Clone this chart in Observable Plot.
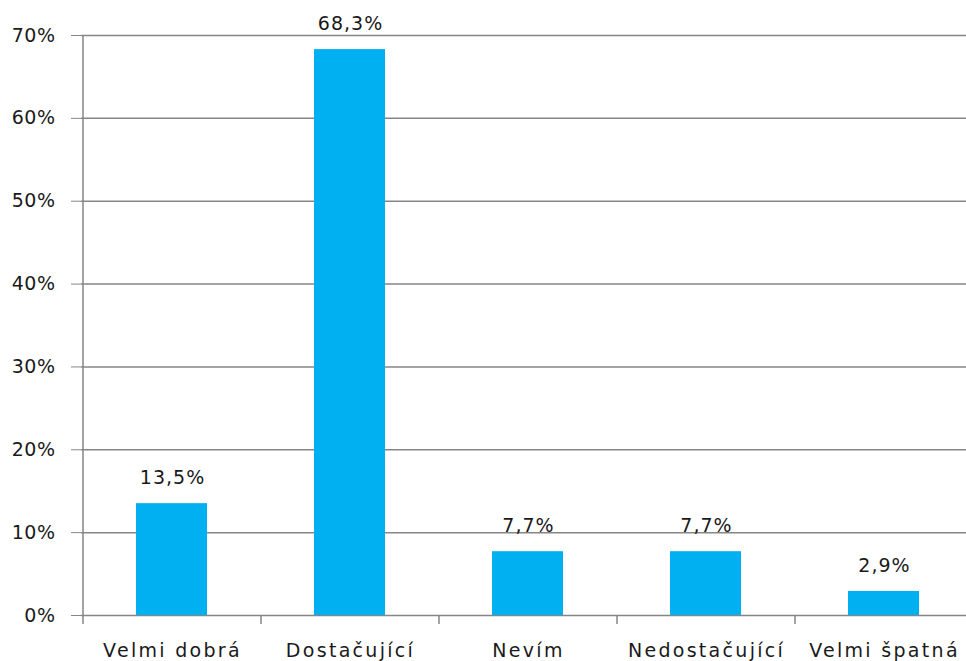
<!DOCTYPE html>
<html>
<head>
<meta charset="utf-8">
<script src="https://cdn.jsdelivr.net/npm/d3@7"></script>
<script src="https://cdn.jsdelivr.net/npm/@observablehq/plot@0.6"></script>
<style>
  html, body { margin: 0; padding: 0; background: #fff; }
  #chart svg { display: block; }
  #chart g[aria-label="x-axis tick label"] text { letter-spacing: 2.3px; }
  #chart g[aria-label="y-axis tick label"] text { letter-spacing: 0.5px; }
  #chart g[aria-label="text"] text { letter-spacing: 1px; }
</style>
</head>
<body>
<div id="chart"></div>
<script>
const categories = ["Velmi dobrá", "Dostačující", "Nevím", "Nedostačující", "Velmi špatná"];
const values = [13.5, 68.3, 7.7, 7.7, 2.9];
const valueLabels = ["13,5%", "68,3%", "7,7%", "7,7%", "2,9%"];
const yTicks = [0, 10, 20, 30, 40, 50, 60, 70];
const yTickLabels = ["0%", "10%", "20%", "30%", "40%", "50%", "60%", "70%"];

const data = categories.map((c, i) => ({category: c, value: values[i], label: valueLabels[i]}));
const tickLabelOf = new Map(yTicks.map((t, i) => [t, yTickLabels[i]]));

const gray = "#868686";
const textColor = "#1a1a1a";

// boundary ticks + left axis line, drawn from the x scale
function boundaries(index, scales, values, dims) {
  const x = scales.x, y = scales.y;
  const bw = typeof x.bandwidth === "function" ? x.bandwidth()
    : (dims.width - dims.marginLeft - dims.marginRight) / categories.length;
  const g = d3.create("svg:g").attr("stroke", gray).attr("stroke-width", 1.5);
  const y0 = y(0);
  const yTop = y(d3.max(yTicks));
  const x0 = x(categories[0]);
  g.append("line").attr("x1", x0).attr("x2", x0).attr("y1", yTop).attr("y2", y0 + 9);
  categories.forEach(c => {
    const xe = x(c) + bw;
    g.append("line").attr("x1", xe).attr("x2", xe).attr("y1", y0).attr("y2", y0 + 9);
  });
  return g.node();
}

const chart = Plot.plot({
  width: 966,
  height: 661,
  marginLeft: 81,
  marginRight: -8,
  marginTop: 35,
  marginBottom: 46,
  style: {fontFamily: "DejaVu Sans, sans-serif", fontSize: "19px", background: "#fff", color: textColor},
  x: {domain: categories, padding: 0},
  y: {domain: [0, 70]},
  marks: [
    Plot.ruleY(yTicks, {stroke: gray, strokeWidth: 1.5}),
    Plot.axisY(yTicks, {
      tickSize: 10, tickPadding: 16, stroke: gray, fill: textColor,
      tickFormat: d => tickLabelOf.get(d), label: null, fontSize: 19
    }),
    Plot.axisX({tickSize: 0, tickPadding: 28, label: null, fill: textColor, fontSize: 19}),
    Plot.barY(data, {x: "category", y: "value", fill: "#00B0F0", insetLeft: 53, insetRight: 54}),
    Plot.text(data, {x: "category", y: "value", text: "label", dy: -26, fill: textColor, fontSize: 19}),
    boundaries
  ]
});
document.getElementById("chart").append(chart);
</script>
</body>
</html>
